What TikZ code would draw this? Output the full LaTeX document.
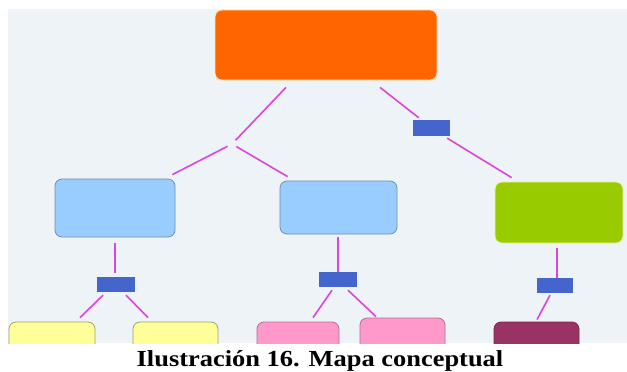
\documentclass[tikz,border=0pt]{standalone}
\usepackage{fontspec}
\setmainfont{Liberation Serif}
\definecolor{bgc}{HTML}{EDF3F6}
\definecolor{orangec}{HTML}{FF6600}
\definecolor{orangeb}{HTML}{FFE2B8}
\definecolor{bluec}{HTML}{99CCFF}
\definecolor{blueb}{HTML}{7090B0}
\definecolor{greenc}{HTML}{99CC00}
\definecolor{greenb}{HTML}{F2F0A8}
\definecolor{yellowc}{HTML}{FFFF99}
\definecolor{yellowb}{HTML}{A0A070}
\definecolor{pinkc}{HTML}{FF99CC}
\definecolor{pinkb}{HTML}{B07090}
\definecolor{maroonc}{HTML}{993366}
\definecolor{labc}{HTML}{4466CC}
\definecolor{linec}{HTML}{DD44DD}
\tikzset{
  box/.style={rounded corners=7pt, inner sep=0pt, line width=0.8pt},
  lab/.style={fill=labc, inner sep=0pt, minimum width=37pt, minimum height=15pt},
  conn/.style={draw=linec, line width=1.6pt},
}
\begin{document}
\begin{tikzpicture}[x=1pt,y=-1pt]
\useasboundingbox (0,0) rectangle (627,372);
\fill[white] (0,0) rectangle (627,372);
\fill[bgc] (8,9) rectangle (627,343);
\begin{scope}
\clip (8,9) rectangle (627,343);
\node[box, fill=orangec, draw=orangeb, minimum width=222pt, minimum height=70pt] (top) at (326,45) {};
\node[box, fill=bluec, draw=blueb, minimum width=120pt, minimum height=58pt] (bl) at (115,208) {};
\node[box, fill=bluec, draw=blueb, minimum width=117pt, minimum height=53pt] (bm) at (338.5,207.5) {};
\node[box, fill=greenc, draw=greenb, minimum width=128pt, minimum height=61pt] (gr) at (559,212.5) {};
\node[lab, minimum width=37pt, minimum height=16pt] (l1) at (431.5,128) {};
\node[lab, minimum width=38pt] (l2) at (116,284.5) {};
\node[lab, minimum width=38pt] (l3) at (338,279.5) {};
\node[lab, minimum width=36pt] (l4) at (555,285.5) {};
\node[box, fill=yellowc, draw=yellowb, minimum width=86pt, minimum height=50pt] (y1) at (52,347) {};
\node[box, fill=yellowc, draw=yellowb, minimum width=85pt, minimum height=50pt] (y2) at (175.5,347) {};
\node[box, fill=pinkc, draw=pinkb, minimum width=82pt, minimum height=50pt] (p1) at (298,347) {};
\node[box, fill=pinkc, draw=pinkb, minimum width=85pt, minimum height=50pt] (p2) at (402.5,343) {};
\node[box, fill=maroonc, draw=maroonc!80!black, minimum width=85pt, minimum height=50pt] (mr) at (536.5,347) {};
\coordinate (j) at (232,144);
% connectors
\draw[conn, shorten >=5pt] ([xshift=-40pt,yshift=-7pt]top.south) -- (j);
\draw[conn, shorten <=5pt] (j) -- ([xshift=-3pt,yshift=4pt]bl.north east);
\draw[conn, shorten <=5pt] (j) -- ([xshift=8pt,yshift=4pt]bm.north west);
\draw[conn] ([xshift=54pt,yshift=-7pt]top.south) -- ([xshift=6pt,yshift=2pt]l1.north west);
\draw[conn] ([xshift=-3pt,yshift=-2pt]l1.south east) -- ([xshift=17pt,yshift=4pt]gr.north west);
\draw[conn] ([yshift=-6pt]bl.south) -- ([xshift=-1pt,yshift=4pt]l2.north);
\draw[conn] ([xshift=-13pt,yshift=-3pt]l2.south) -- ([xshift=28pt,yshift=4pt]y1.north);
\draw[conn] ([xshift=10pt,yshift=-3pt]l2.south) -- ([xshift=-27.5pt,yshift=4pt]y2.north);
\draw[conn] ([xshift=-0.5pt,yshift=-3pt]bm.south) -- (l3.north);
\draw[conn] ([xshift=-6pt,yshift=-3pt]l3.south) -- ([xshift=15pt,yshift=4pt]p1.north);
\draw[conn] ([xshift=10pt,yshift=-3pt]l3.south) -- ([xshift=-26.5pt,yshift=1pt]p2.north);
\draw[conn] ([xshift=-2pt,yshift=-5pt]gr.south) -- ([xshift=2pt]l4.north);
\draw[conn] ([xshift=-5pt,yshift=-2pt]l4.south) -- ([xshift=0.5pt,yshift=2pt]mr.north);
\end{scope}
\node[anchor=base, font=\bfseries\fontsize{23}{26}\selectfont, inner sep=0pt, xscale=1.15] (cap) at (320,366) {Ilustración 16. Mapa conceptual};
\end{tikzpicture}
\end{document}
